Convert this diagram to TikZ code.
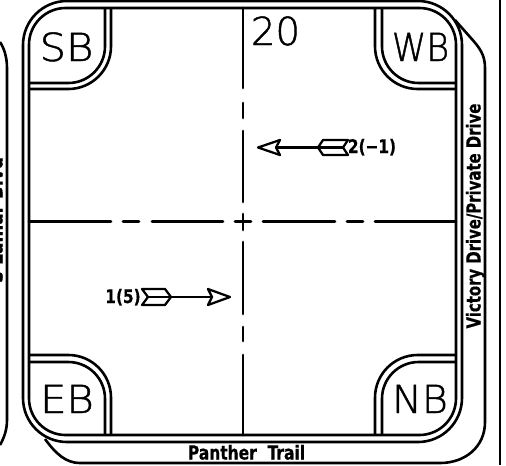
\documentclass[tikz,border=0pt]{standalone}
\usepackage{fontspec}
\setmainfont{Liberation Sans}
\newfontfamily\thinlab{DejaVu Sans ExtraLight}[FakeBold=1.2]
\newfontfamily\boldlab{DejaVu Sans Bold}[FakeBold=0.6]
\tikzset{
  px/.style={x=0.75pt,y=-0.75pt},
  ln/.style={line width=1.95pt,black,line cap=butt,line join=round},
  al/.style={line width=1.7pt,black,line cap=round,line join=round},
  cl/.style={line width=2.1pt,black,line cap=round},
  big/.style={inner sep=0pt,anchor=base,font=\thinlab\fontsize{29pt}{30pt}\selectfont},
  road/.style={inner sep=0pt,anchor=base,font=\boldlab\fontsize{14.5pt}{15pt}\selectfont},
  cnt/.style={inner sep=0pt,anchor=base,font=\boldlab\fontsize{14pt}{15pt}\selectfont}
}
\begin{document}
\begin{tikzpicture}[px]
\useasboundingbox (0,0) rectangle (506,465);
\clip (0,0) rectangle (506,465);
% frame
\draw[ln,rounded corners=27.5pt] (29,8) rectangle (456,435);
\draw[ln,rounded corners=33pt] (23,1) rectangle (462,442);
% outer road edge
\draw[ln] (455,20) -- (470,37) .. controls (480,48) and (485,55) .. (485,68) -- (485,422)
  .. controls (485,447) and (465,463) .. (440,463) -- (80,463)
  .. controls (66,463) and (56,454) .. (45,439);
\draw[ln] (0,42) .. controls (4,48) and (7,57) .. (7,68) -- (7,420) .. controls (7,430) and (4,438) .. (0,445);
\draw[line width=1.95pt] (500,0) -- (500,465);
% corner pockets
\draw[ln,rounded corners=27.5pt] (105,8) -- (105,83) -- (29,83);
\draw[ln,rounded corners=32pt] (111,8) -- (111,89) -- (29,89);
\draw[ln,rounded corners=27.5pt] (382,8) -- (382,83) -- (456,83);
\draw[ln,rounded corners=32pt] (375,8) -- (375,89) -- (456,89);
\draw[ln,rounded corners=27.5pt] (105,435) -- (105,362) -- (29,362);
\draw[ln,rounded corners=32pt] (111,435) -- (111,355) -- (29,355);
\draw[ln,rounded corners=27.5pt] (382,435) -- (382,362) -- (456,362);
\draw[ln,rounded corners=32pt] (375,435) -- (375,355) -- (456,355);
% centre lines
\foreach \a/\b in {8/88,103/118,131/202,214/230,242/314,327/341,355/435}
  \draw[cl] (243,\a) -- (243,\b);
\foreach \a/\b in {29/111,123/139,152/223,235/251,263/335,347/363,375/456}
  \draw[cl] (\a,221.5) -- (\b,221.5);
% labels
\node[big,xscale=1.08] (sb) at (66.5,61) {SB};
\node[big,xscale=0.90] (wb) at (420.5,61) {WB};
\node[big,xscale=1.08] (eb) at (67,413) {EB};
\node[big,xscale=1.03] (nb) at (420,413) {NB};
\node[big] (n20) at (275.5,45) {20};
\node[road,rotate=90,xscale=0.77] (vic) at (480.5,216) {Victory Drive/Private Drive};
\node[road,xscale=0.80] (pan) at (246.5,459.5) {Panther\ \ Trail};
\node[road,rotate=90,xscale=0.88] (lam) at (2.5,220) {S Lamar Blvd};
\node[cnt,xscale=0.82] (c2) at (372,153) {2(−1)};
\node[cnt,xscale=0.82] (c1) at (123,303) {1(5)};
% arrow WB
\draw[al] (258,147.5) -- (280,140) -- (276,147.5) -- (280,155) -- cycle;
\draw[al] (276,147.5) -- (318,147.5);
\draw[al] (318,147.5) -- (323,140) -- (348,140) -- (343,147.5) -- (348,155) -- (323,155) -- cycle;
\draw[al] (318,147.5) -- (343,147.5);
% arrow EB
\draw[al] (230,297) -- (208,289) -- (212,297) -- (208,305) -- cycle;
\draw[al] (171,297) -- (212,297);
\draw[al] (171,297) -- (165,289) -- (142,289) -- (148,297) -- (142,305) -- (165,305) -- cycle;
\draw[al] (148,297) -- (171,297);
\end{tikzpicture}
\end{document}
